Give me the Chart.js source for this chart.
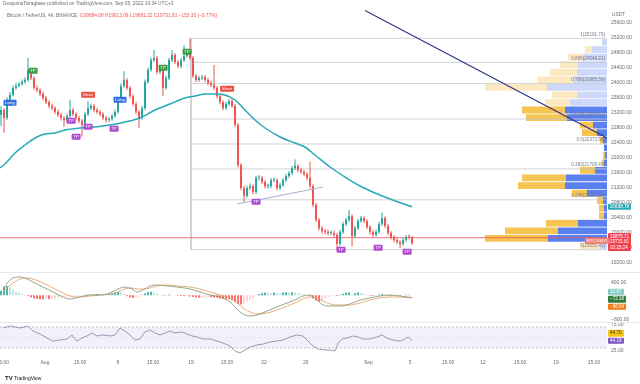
<!DOCTYPE html>
<html><head><meta charset="utf-8">
<script src="https://cdn.jsdelivr.net/npm/chart.js@4"></script>
<style>
html,body{margin:0;padding:0;background:#fff;width:640px;height:384px;overflow:hidden;font-family:"Liberation Sans",Arial,sans-serif;}
#wrap{position:relative;width:640px;height:384px;overflow:hidden;}
canvas{position:absolute;left:0;}
.t{position:absolute;white-space:nowrap;line-height:1;}
.sep{position:absolute;background:#e6e8ee;}
</style></head>
<body><div id="wrap">
<canvas id="vp" width="640" height="271" style="top:0"></canvas>
<canvas id="main" width="640" height="271" style="top:0"></canvas>
<canvas id="macd" width="640" height="49" style="top:273px"></canvas>
<canvas id="rsi" width="640" height="48" style="top:322px"></canvas>
<div class="sep" style="left:0;top:272px;width:640px;height:1px"></div>
<div class="sep" style="left:0;top:322px;width:640px;height:1px"></div>
<div class="t" style="left:3px;top:2px;font-size:4.8px;color:#6a6d78">DespoinaTsiraglawe published on TradingView.com, Sep 05, 2022 10:34 UTC+3</div>
<div class="t" style="left:7px;top:13.5px;font-size:4.8px;color:#6a6d78">Bitcoin / TetherUS, 4h, BINANCE&nbsp; <span style="color:#ef5350">O19884.08 H19913.09 L19681.22 C19731.81 −153.10 (−0.77%)</span></div>
<div class="t" style="left:612px;top:13px;font-size:4.8px;color:#6a6d78">USDT</div>
<div class="t" style="left:5px;top:375px;font-size:5px;color:#131722"><b style="font-size:6px">TV</b> TradingView</div>
</div>
<script>
// ---------------- data ----------------
const xMin = -4.31, xMax = 53.88;             // days from Aug 1 00:00
const priceMin = 18987, priceMax = 26213;
const priceTicks = [19200,19600,20000,20400,20800,21200,21600,22000,22400,22800,23200,23600,24000,24400,24800,25200,25600];

const candleStart = -4.214;   // time of first candle (days from Aug 1)
const candlePeriod = 0.28763; // days between candles
const firstOpen = 23150;
const closes = [23280,23070,23550,23680,23870,23920,23970,24030,24080,24350,
24130,23870,23810,23710,23600,23490,23390,23330,23230,23150,
23070,23010,23120,23280,23170,23070,22990,22880,23170,23330,
23390,23280,23230,23170,23070,23010,23040,23120,23230,23550,
23920,24080,23870,23650,23440,23230,23070,23330,24030,24350,
24610,24670,24290,24350,23870,24130,24610,24750,24560,24450,
24610,24720,24770,24670,24190,24080,24130,24160,24080,24000,
23950,23870,23650,23490,23330,23440,23520,23390,22880,21810,
21200,20990,21200,21250,21090,21470,21470,21360,21250,21250,
21410,21410,21200,21280,21410,21520,21600,21730,21790,21680,
21630,21570,21470,21250,20750,20350,20130,20050,20030,20000,
20000,19950,19710,20030,20240,20350,20450,19920,20130,20320,
20400,20320,20160,20030,19950,20030,20240,20400,20190,20000,
19890,19810,19760,19710,19810,19890,19884.08,19731.81];
const highs = [23380,23330,23620,23760,23930,24000,24030,24090,24150,24670,
24400,24180,23930,23860,23770,23650,23540,23450,23380,23290,
23200,23120,23180,23550,23330,23220,23120,23040,23230,23510,
23450,23440,23340,23280,23220,23120,23100,23170,23290,23620,
23990,24310,24130,23920,23700,23490,23280,23390,24090,24410,
24680,24880,24720,24420,24400,24190,24670,24880,24800,24610,
24670,25010,24840,25191.76,24720,24240,24190,24220,24210,24130,
24060,24480,23920,23700,23540,23500,23580,23570,23440,22930,
21860,21260,21260,21320,21300,21530,21540,21520,21410,21320,
21470,21480,21460,21340,21470,21580,21660,21790,21960,21840,
21740,21680,21620,21910,21300,20800,20400,20190,20110,20090,
20070,20060,20000,20090,20300,20410,20620,20500,20190,20380,
20460,20450,20370,20210,20080,20090,20300,20540,20450,20240,
20050,19940,19870,19810,19870,19950,19960,19913.09];
const lows = [22850,22670,23020,23500,23640,23820,23880,23930,23980,24030,
24080,23820,23750,23650,23540,23430,23320,23270,23170,23090,
23000,22830,22960,23070,23110,23010,22930,22570,22830,23120,
23280,23220,23170,23110,23010,22950,22960,22990,23070,23180,
23500,23870,23810,23590,23380,23170,22800,23020,23280,23980,
24300,24560,24230,24240,23650,23820,24080,24560,24500,24390,
24400,24560,24670,24610,24130,24020,24030,24080,24020,23940,
23890,23810,23590,23430,23270,23280,23390,23330,22820,21750,
21140,20810,20940,21150,21030,21040,21400,21300,21190,21190,
21200,21350,21140,21150,21230,21360,21470,21550,21680,21620,
21570,21510,21410,21190,20690,20290,20070,19990,19970,19940,
19940,19890,19555.40,19660,19980,20190,20300,19640,19870,20080,
20270,20260,20100,19970,19890,19900,19980,20190,20130,19940,
19830,19750,19700,19600,19660,19760,19830,19681.22];

const emaTimes = [-4.31,-3.83,-2.87,-1.91,-0.95,0.00,0.96,1.92,3.36,4.80,6.24,7.67,9.11,10.55,11.99,13.43,14.39,15.35,16.30,17.26,18.22,19.18,20.14,21.10,22.54,23.97,24.93,25.89,27.33,28.77,30.21,31.64,33.08,35.19];
const emaValues = [21733,21840,22133,22347,22533,22640,22667,22747,22800,22827,22880,22960,23067,23280,23440,23600,23653,23707,23707,23680,23547,23280,23013,22800,22560,22400,22293,22080,21760,21493,21253,21067,20907,20698.78];

const fibStart = 14.0;
const fibLevels = ['1','0.886','0.786','0.618','0.5','0.382','0.236','0'];
const fibPrices = [25191.76,24549.21,23985.58,23038.67,22373.58,21708.49,20885.58,19555.40];

const trendTimes = [30.68, 53.89];
const trendPrices = [25933, 22533];
const wedgeTimes = [18.41, 26.66];
const wedgePrices = [20773, 21226];
const hLinePrice = 19875.71;

const signalTimes  = [-3.35,-1.15,4.13,7.19,11.32,13.62,17.45,2.50,4.13,2.98,6.62,20.23,28.38,31.93,34.71];
const signalPrices = [23466,24320,23680,23547,24400,24827,23840,22987,22827,22560,22773,20827,19547,19600,19493];
const signalTexts  = ['Long','TP','Short','Long','TP','TP','Short','TP','TP','TP','TP','TP','TP','TP','TP'];
const signalKinds  = ['long','tp','short','long','tp','tp','short','exit','exit','exit','exit','exit','exit','exit','exit'];

const vpPrices = [19656,19857,20059,20260,20461,20663,20864,21065,21266,21468,21669,21870,22072,22273,22474,22676,22877,23078,23280,23481,23682,23884,24085,24286,24488,24689,24890,25092];
const vpBlueVol = [70,590,490,290,30,30,40,200,420,410,120,30,20,30,40,100,140,400,420,370,300,600,340,300,290,240,150,50];
const vpYellowVol = [200,630,530,320,50,50,60,150,470,440,150,20,20,0,30,150,130,410,430,250,250,620,360,270,180,150,70,0];
const vpValueArea = [0,1,1,1,1,1,1,1,1,1,1,1,1,1,1,1,1,1,1,0,0,0,0,0,0,0,0,0];
const vpMax = 6070;

const macdMin = -865, macdMax = 724;
const macdTicks = [400, -800];
const macdTimes = [-4.02,-3.54,-3.06,-2.39,-1.72,-1.15,-0.19,0.77,1.73,2.40,3.36,4.32,5.28,6.24,7.00,7.67,8.35,8.83,9.40,10.07,10.74,11.70,12.66,13.91,14.87,15.82,16.78,17.74,18.41,18.99,19.66,20.33,21.29,22.25,23.21,24.17,24.74,25.41,26.08,26.66,27.33,28.29,29.25,30.21,31.17,32.12,33.08,34.04,35.19];
const macdLine = [173,432,562,595,530,432,270,108,-54,-119,-54,11,11,76,205,270,205,108,173,303,335,303,270,205,108,11,-54,-216,-443,-605,-670,-638,-508,-378,-249,-119,-22,11,-151,-313,-346,-346,-281,-151,-86,-22,11,-22,-72.18];
const signalLine = [108,270,400,530,562,530,400,238,76,-22,-54,-22,11,43,108,205,238,205,205,238,303,335,303,270,205,108,11,-86,-249,-411,-540,-605,-573,-476,-346,-216,-119,-54,-86,-184,-281,-313,-313,-249,-151,-86,-54,-54,-86.04];
const histValues = [150,280,300,260,180,120,80,50,20,-20,
-60,-100,-120,-130,-130,-120,-120,-110,-100,-90,
-70,-50,-40,-30,-25,-20,-10,10,15,20,
10,30,40,30,20,25,40,60,90,110,
100,70,-30,-70,-90,-80,-50,20,60,100,
120,90,60,30,-15,10,25,20,10,-10,
-25,-30,-20,-40,-55,-70,-80,-75,-70,-60,
-65,-70,-80,-100,-110,-120,-130,-160,-220,-270,
-300,-260,-200,-150,-90,-30,40,70,90,80,
70,90,80,70,90,100,95,100,90,70,
50,30,10,-30,-100,-170,-200,-170,-110,-60,
-30,-20,-25,20,50,80,90,40,70,90,
80,50,20,-10,-20,10,30,40,15,-10,
-20,-15,-10,-15,5,15,20,13.87];

const rsiMin = 14.8, rsiMax = 79.5;
const rsiTicks = [75, 25];
const rsiBands = [70, 50, 30];
const rsiTimes = [-4.02,-3.35,-2.39,-1.63,-1.15,-0.47,0.20,0.77,1.44,2.11,2.59,3.07,3.55,4.03,4.51,4.99,5.57,6.24,6.72,7.20,7.67,8.15,8.63,9.11,9.59,10.07,10.55,11.03,11.51,11.99,12.47,13.14,13.62,14.10,14.58,15.15,15.82,16.50,17.07,17.74,18.22,18.70,19.18,19.66,20.33,20.91,21.58,22.25,22.82,23.49,24.17,24.74,25.22,25.70,26.18,26.85,27.33,27.81,28.10,28.48,28.96,29.53,30.01,30.49,31.16,31.84,32.32,32.79,33.37,34.04,34.52,34.81,35.19];
const rsiValues = [68.1,71.9,68.1,71.9,62.4,56.7,49.0,43.3,45.2,47.1,54.8,43.3,49.0,52.9,58.6,52.9,54.8,52.9,54.8,68.1,62.4,54.8,45.2,47.1,60.5,64.3,58.6,54.8,58.6,62.4,58.6,60.5,56.7,52.9,51.0,47.1,47.1,43.3,39.5,33.8,24.3,20.5,26.2,31.9,35.7,37.6,41.4,43.3,45.2,51.0,54.8,52.9,43.3,33.8,28.1,26.2,26.2,24.3,39.5,47.1,49.0,52.9,51.0,47.1,47.1,51.0,54.8,49.0,45.2,43.3,47.1,51.0,44.19];
const rsiMaLast = 44.70;

const timeTickValues = [-4.05,0,3.36,7,10.36,14,17.45,21,25,31,35,38.64,42,45.55,49,52.64];
const timeTickLabels = ['15:00','Aug','15:00','8','15:00','15','15:00','22','26','Sep','5','15:00','12','15:00','19','15:00'];

// ---------------- styles ----------------
Chart.defaults.font.family = '"Liberation Sans", Arial, sans-serif';
const axisColor = '#6a6d78';
const upColor = '#26a69a', downColor = '#ef5350';
const tickFont = {size: 5};

function rightAxis(min, max, ticks, fmt) {
  return {
    type: 'linear', position: 'right', min, max, beginAtZero: false,
    grid: {display: false, drawTicks: false}, border: {display: false},
    ticks: {color: axisColor, font: tickFont, padding: 4, autoSkip: false, callback: fmt},
    afterBuildTicks: s => { s.ticks = ticks.map(v => ({value: v})); },
    afterFit: s => { s.width = 33; s.paddingTop = 0; s.paddingBottom = 0; }
  };
}
function hiddenX() {
  return {type: 'linear', min: xMin, max: xMax, offset: false, display: false};
}
const baseOpts = {responsive: false, animation: false, devicePixelRatio: 1, layout: {padding: 0},
  plugins: {legend: {display: false}, tooltip: {enabled: false}}};

// ---------------- main price chart ----------------
const candleTimes = closes.map((_, i) => candleStart + i * candlePeriod);
const opens = closes.map((c, i) => i === 0 ? firstOpen : closes[i - 1]);
const candleColors = closes.map((c, i) => c >= opens[i] ? upColor : downColor);

const lineDs = (pts, color, width, order, extra) => Object.assign({
  type: 'line', data: pts, borderColor: color, borderWidth: width, pointRadius: 0, order, fill: false
}, extra || {});

const mainDatasets = [
  lineDs(trendTimes.map((t, i) => ({x: t, y: trendPrices[i]})), '#2f3587', 1.1, 0),
  lineDs(wedgeTimes.map((t, i) => ({x: t, y: wedgePrices[i]})), '#a7b0d4', 1, 0),
  lineDs(emaTimes.map((t, i) => ({x: t, y: emaValues[i]})), '#27a9b6', 1.5, 1, {cubicInterpolationMode: 'monotone'}),
  {type: 'bar', data: candleTimes.map((t, i) => ({x: t, y: [opens[i], closes[i]]})), backgroundColor: candleColors,
   grouped: false, maxBarThickness: 2, minBarLength: 1, order: 2},
  {type: 'bar', data: candleTimes.map((t, i) => ({x: t, y: [lows[i], highs[i]]})), backgroundColor: candleColors,
   grouped: false, maxBarThickness: 1, order: 3},
  lineDs([{x: xMin, y: hLinePrice}, {x: xMax, y: hLinePrice}], 'rgba(239,83,80,0.8)', 1, 4),
  lineDs([{x: fibStart, y: fibPrices[0]}, {x: fibStart, y: fibPrices[fibPrices.length - 1]}], '#c3c6ce', 0.8, 6)
];
fibPrices.forEach(p => mainDatasets.push(lineDs([{x: fibStart, y: p}, {x: xMax, y: p}], '#c3c6ce', 0.8, 6)));

const mainChart = new Chart(document.getElementById('main'), {
  type: 'bar',
  data: {datasets: mainDatasets},
  options: Object.assign({}, baseOpts, {
    scales: {x: hiddenX(), y: rightAxis(priceMin, priceMax, priceTicks, v => Number(v).toFixed(2))}
  })
});

// ---------------- volume profile overlay ----------------
new Chart(document.getElementById('vp'), {
  type: 'bar',
  data: {datasets: [
    {data: vpPrices.map((p, i) => ({y: p, x: [0, vpBlueVol[i]]})),
     backgroundColor: vpValueArea.map(v => v ? '#5a80ef' : '#cdd8fa'), grouped: false, barPercentage: 0.9, categoryPercentage: 1},
    {data: vpPrices.map((p, i) => ({y: p, x: [vpBlueVol[i], vpBlueVol[i] + vpYellowVol[i]]})),
     backgroundColor: vpValueArea.map(v => v ? '#f6c453' : '#fde9c0'), grouped: false, barPercentage: 0.9, categoryPercentage: 1}
  ]},
  options: Object.assign({}, baseOpts, {
    indexAxis: 'y',
    layout: {padding: {right: 33}},
    scales: {
      x: {type: 'linear', min: 0, max: vpMax, reverse: true, display: false},
      y: {type: 'linear', min: priceMin, max: priceMax, offset: false, display: false}
    }
  })
});

// ---------------- MACD ----------------
const histColors = histValues.map((v, i) => {
  const prev = i ? histValues[i - 1] : 0;
  if (v >= 0) return v >= prev ? '#26a69a' : '#b2dfdb';
  return v <= prev ? '#ff5252' : '#ffcdd2';
});
const macdChart = new Chart(document.getElementById('macd'), {
  type: 'bar',
  data: {datasets: [
    lineDs(macdTimes.map((t, i) => ({x: t, y: macdLine[i]})), '#8f9a7c', 0.9, 0, {cubicInterpolationMode: 'monotone'}),
    lineDs(macdTimes.map((t, i) => ({x: t, y: signalLine[i]})), '#e2a56f', 0.9, 1, {cubicInterpolationMode: 'monotone'}),
    {type: 'bar', data: candleTimes.map((t, i) => ({x: t, y: histValues[i]})), backgroundColor: histColors,
     grouped: false, barPercentage: 0.55, categoryPercentage: 1, order: 2}
  ]},
  options: Object.assign({}, baseOpts, {
    scales: {x: hiddenX(), y: rightAxis(macdMin, macdMax, macdTicks, v => (v < 0 ? '−' : '') + Math.abs(v).toFixed(2))}
  })
});

// ---------------- RSI ----------------
const bandLine = (v, extra) => lineDs([{x: xMin, y: v}, {x: xMax, y: v}], 'rgba(120,123,134,0.7)', 0.6, 2,
  Object.assign({borderDash: [2, 2]}, extra || {}));
const rsiChart = new Chart(document.getElementById('rsi'), {
  type: 'line',
  data: {datasets: [
    lineDs(rsiTimes.map((t, i) => ({x: t, y: rsiValues[i]})), '#958cb0', 0.9, 0),
    bandLine(rsiBands[0], {fill: '+2', backgroundColor: 'rgba(126,87,194,0.09)'}),
    bandLine(rsiBands[1], {borderColor: 'rgba(120,123,134,0.35)', borderDash: [1, 2]}),
    bandLine(rsiBands[2])
  ]},
  options: Object.assign({}, baseOpts, {
    scales: {
      x: {type: 'linear', min: xMin, max: xMax, offset: false, position: 'bottom',
          grid: {display: false, drawTicks: false}, border: {display: false},
          ticks: {color: axisColor, font: tickFont, padding: 4, autoSkip: false, maxRotation: 0,
                  callback: (v, i) => timeTickLabels[i]},
          afterBuildTicks: s => { s.ticks = timeTickValues.map(v => ({value: v})); },
          afterFit: s => { s.height = 14; s.paddingLeft = 0; s.paddingRight = 0; }},
      y: rightAxis(rsiMin, rsiMax, rsiTicks, v => Number(v).toFixed(2))
    }
  })
});

// ---------------- HTML text labels ----------------
const wrap = document.getElementById('wrap');
function addText(text, css) {
  const d = document.createElement('div');
  d.className = 't';
  d.textContent = text;
  Object.assign(d.style, css);
  wrap.appendChild(d);
  return d;
}
const mx = mainChart.scales.x, my = mainChart.scales.y;
const area = mainChart.chartArea;

// fib labels
fibPrices.forEach((p, i) => {
  addText(fibLevels[i] + '(' + p.toFixed(2) + ')', {
    right: (640 - area.right + 2) + 'px', top: (my.getPixelForValue(p) - 5.6) + 'px',
    fontSize: '4.6px', color: '#787b86'
  });
});

// signal flags
const flagBg = {long: '#2f6fe0', short: '#e8503f', tp: '#3f9a47', exit: '#b04ad0'};
signalTimes.forEach((t, i) => {
  addText(signalTexts[i], {
    left: mx.getPixelForValue(t) + 'px', top: my.getPixelForValue(signalPrices[i]) + 'px',
    transform: 'translate(-50%,-50%)', fontSize: '4.4px', color: '#fff',
    background: flagBg[signalKinds[i]], padding: '1px 1.6px', borderRadius: '1px'
  });
});

// right scale value boxes
function box(text, y, bg, color, css) {
  return addText(text, Object.assign({
    left: '608px', top: y + 'px', transform: 'translateY(-50%)', fontSize: '4.6px', color: color || '#fff',
    background: bg, padding: '1px 2px', borderRadius: '1px'
  }, css || {}));
}
const lastClose = closes[closes.length - 1];
box(emaValues[emaValues.length - 1].toFixed(2), my.getPixelForValue(emaValues[emaValues.length - 1]), '#27a9b6');
const red = box('', my.getPixelForValue(lastClose) - 1, '#f0414f');
red.innerHTML = hLinePrice.toFixed(2) + '<br>' + lastClose.toFixed(2) + '<br>03:25:24';
red.style.lineHeight = '1.15';
addText('BTCUSDT', {left: '585px', top: (my.getPixelForValue(lastClose) - 2) + 'px', transform: 'translateY(-50%)',
  fontSize: '4.4px', color: '#fff', background: '#ef7d75', padding: '1px 2px'});

// MACD value boxes (stacked downward so they do not overlap)
const macdY = macdChart.scales.y, macdTop = 273;
const macdItems = [
  {v: histValues[histValues.length - 1], bg: '#7fcac2'},
  {v: macdLine[macdLine.length - 1], bg: '#2f7d3a'},
  {v: signalLine[signalLine.length - 1], bg: '#ef7a1a'}
];
let yPrev = -1e9;
macdItems.forEach(it => {
  let y = macdTop + macdY.getPixelForValue(it.v) - 3;
  if (y < yPrev + 7.4) y = yPrev + 7.4;
  yPrev = y;
  box((it.v < 0 ? '−' : '') + Math.abs(it.v).toFixed(2), y, it.bg);
});

// RSI value boxes (stacked upward)
const rsiY = rsiChart.scales.y, rsiTop = 322;
const yRsi = rsiTop + rsiY.getPixelForValue(rsiValues[rsiValues.length - 1]);
box(rsiValues[rsiValues.length - 1].toFixed(2), yRsi, '#7e57c2');
box(rsiMaLast.toFixed(2), Math.min(rsiTop + rsiY.getPixelForValue(rsiMaLast), yRsi - 7.6), '#f5c518', '#333');
</script>
</body></html>
